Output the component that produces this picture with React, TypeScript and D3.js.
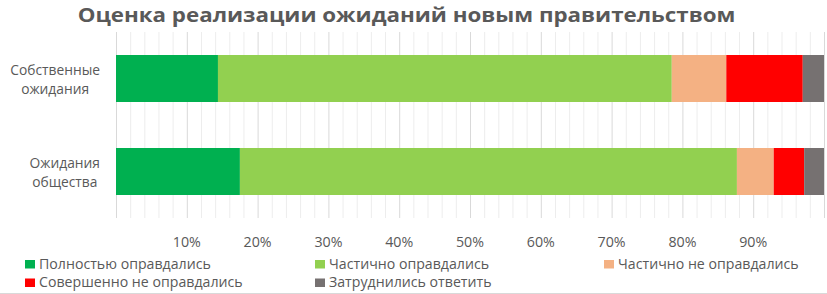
import React, { useEffect, useRef } from "react";
import * as d3 from "d3";

const title = "Оценка реализации ожиданий новым правительством";
const categories = [["Собственные", "ожидания"], ["Ожидания", "общества"]];
const seriesNames = [
  "Полностью оправдались",
  "Частично оправдались",
  "Частично не оправдались",
  "Совершенно не оправдались",
  "Затруднились ответить",
];
const seriesColors = ["#00B050", "#92D050", "#F4B183", "#FF0000", "#767171"];
const fullyMet = [14.4, 17.5];
const partlyMet = [64.1, 70.2];
const partlyNotMet = [7.7, 5.2];
const notMet = [10.8, 4.3];
const noAnswer = [3.0, 2.8];
const tickValues = [10, 20, 30, 40, 50, 60, 70, 80, 90];
const tickLabels = ["10%", "20%", "30%", "40%", "50%", "60%", "70%", "80%", "90%"];

const FONT = "'Open Sans', sans-serif";
const TEXT = "#595959";

export default function App() {
  const ref = useRef<SVGSVGElement | null>(null);

  useEffect(() => {
    const svg = d3.select(ref.current);
    svg.selectAll("*").remove();
    const W = 827, H = 294;
    const x = d3.scaleLinear().domain([0, 100]).range([116, 824]);
    const yIdx = d3.range(categories.length).map(String);
    const y = d3.scaleBand().domain(yIdx).range([32, 218]).paddingInner(0.4946).paddingOuter(0.2473);
    const gTop = 32, gBot = 218;

    svg.append("rect").attr("width", W).attr("height", H).attr("fill", "#fff");

    // minor gridlines
    const minor = d3.range(0, 101, 2).filter((v) => v % 10 !== 0);
    svg.append("g").selectAll("line").data(minor).join("line")
      .attr("x1", (d) => x(d) + 0.5).attr("x2", (d) => x(d) + 0.5)
      .attr("y1", gTop).attr("y2", gBot)
      .attr("stroke", "#ededed").attr("stroke-width", 1);
    const major = d3.range(0, 101, 10);
    svg.append("g").selectAll("line").data(major).join("line")
      .attr("x1", (d) => x(d) + 0.5).attr("x2", (d) => x(d) + 0.5)
      .attr("y1", gTop).attr("y2", gBot)
      .attr("stroke", "#d9d9d9").attr("stroke-width", 1);

    // stacked bars
    const series = [fullyMet, partlyMet, partlyNotMet, notMet, noAnswer];
    const rows = categories.map((_, i) => {
      const o: any = { key: String(i) };
      series.forEach((s, k) => (o["s" + k] = s[i]));
      return o;
    });
    const stack = d3.stack().keys(series.map((_, k) => "s" + k));
    const stacked = stack(rows as any);
    stacked.forEach((layer, k) => {
      svg.append("g").selectAll("rect").data(layer).join("rect")
        .attr("x", (d) => x(d[0]))
        .attr("width", (d) => x(d[1]) - x(d[0]))
        .attr("y", (d: any) => y(d.data.key)!)
        .attr("height", y.bandwidth())
        .attr("fill", seriesColors[k]);
    });

    // tick labels
    svg.append("g").selectAll("text").data(tickValues).join("text")
      .attr("transform", (d) => `translate(${x(d)},246.5) scale(0.95,1)`)
      .attr("text-anchor", "middle")
      .attr("font-family", FONT).attr("font-size", 15).attr("fill", TEXT)
      .text((d, i) => tickLabels[i]);

    // category labels
    const CSX = 0.92;
    categories.forEach((lines, i) => {
      const cy = y(String(i))! + y.bandwidth() / 2;
      const g = svg.append("g");
      const texts = lines.map((ln) =>
        g.append("text")
          .attr("font-family", FONT).attr("font-size", 15).attr("fill", TEXT)
          .attr("text-anchor", "middle")
          .text(ln)
      );
      const widths = texts.map((t) => (t.node() as SVGTextElement).getComputedTextLength() * CSX);
      const maxW = d3.max(widths)!;
      const cx = 100 - maxW / 2;
      texts.forEach((t, j) => {
        t.attr("transform", `translate(${cx},${cy - 3.6 + j * 19}) scale(${CSX},1)`);
      });
    });

    // title
    svg.append("text")
      .attr("transform", `translate(406.5,22) scale(1.145,1)`)
      .attr("text-anchor", "middle")
      .attr("font-family", FONT).attr("font-size", 19.5).attr("font-weight", 700)
      .attr("fill", TEXT)
      .text(title);

    // legend
    const legendPos = [[25, 268.5], [315, 268.5], [604, 268.5], [25, 287], [315, 287]];
    seriesNames.forEach((name, k) => {
      const [lx, ly] = legendPos[k];
      svg.append("rect").attr("x", lx).attr("y", ly - 8.5).attr("width", 10).attr("height", 8.5)
        .attr("fill", seriesColors[k]);
      svg.append("text")
        .attr("transform", `translate(${lx + 14},${ly}) scale(1.012,1.06)`)
        .attr("font-family", FONT).attr("font-size", 14).attr("fill", TEXT)
        .text(name);
    });

    svg.append("line").attr("x1", 0).attr("x2", W).attr("y1", 293.5).attr("y2", 293.5)
      .attr("stroke", "#d9d9d9");
  }, []);

  return (
    <svg
      ref={ref}
      width={827}
      height={294}
      style={{ position: "absolute", left: 0, top: 0, display: "block" }}
    />
  );
}
